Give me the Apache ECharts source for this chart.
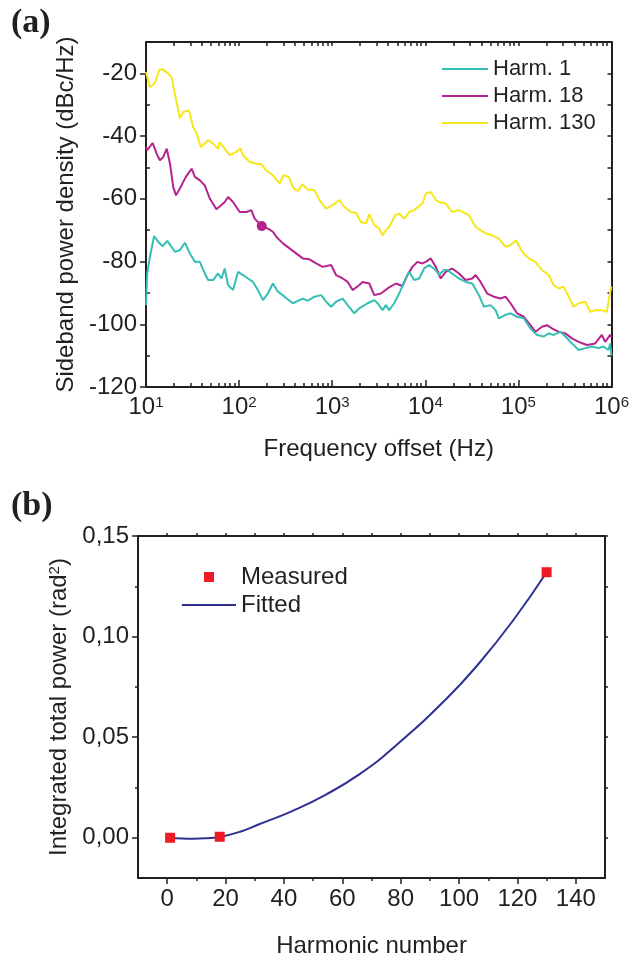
<!DOCTYPE html>
<html>
<head>
<meta charset="utf-8">
<script src="https://cdn.jsdelivr.net/npm/echarts@6/dist/echarts.min.js"></script>
<style>
  html, body { margin: 0; padding: 0; background: #ffffff; }
  #chart { width: 632px; height: 965px; }
</style>
</head>
<body>
<div id="chart"></div>
<script>
// Sideband power density of harmonics, [offset frequency (Hz), dBc/Hz]
const harm1 = [
  [10, -93.9], [10.3, -83.8], [10.85, -79.6], [12.2, -71.9], [13.5, -73.7], [15.1, -75.1],
  [16.9, -73.4], [18.8, -75.3], [20.4, -76.9], [23.1, -76.4], [26.2, -74.0], [29.6, -77.4],
  [33.5, -80.1], [37.9, -80.1], [42.8, -83.8], [46.5, -85.9], [52.6, -85.9], [59.4, -83.8],
  [64.6, -85.4], [70.1, -82.2], [76.1, -87.5], [86.1, -89.1], [97.3, -83.3], [110.1, -84.3],
  [124.5, -85.4], [140.9, -86.5], [159.4, -89.1], [180.3, -92.3], [203.9, -90.2], [230.7, -87.0],
  [261.0, -89.6], [307.8, -91.2], [377.6, -93.3], [445.5, -92.3], [483.3, -91.8], [546.7, -92.5],
  [644.8, -91.2], [760.6, -90.7], [860.5, -92.8], [973.2, -94.4], [1101, -92.8], [1296, -91.8],
  [1466, -93.9], [1729, -96.5], [1956, -94.9], [2400, -93.3], [2831, -92.3], [3070, -93.3],
  [3474, -95.5], [3777, -93.9], [4096, -95.5], [4634, -93.3], [5242, -90.2], [5929, -86.5],
  [6707, -83.3], [7590, -85.9], [8585, -85.4], [9710, -82.2], [10984, -81.1], [12953, -82.7],
  [14053, -84.3], [15897, -82.7], [17251, -82.7], [20341, -84.3], [23010, -85.4], [27140, -86.5],
  [31944, -87.0], [37670, -90.7], [42618, -94.4], [50260, -93.9], [56860, -95.5], [61680, -98.1],
  [72750, -97.0], [82300, -96.5], [96850, -97.6], [114240, -98.1], [134740, -101.3], [158600, -103.4],
  [187100, -103.9], [211600, -102.9], [239300, -103.4], [282300, -102.4], [319400, -103.9], [375800, -106.1],
  [443400, -108.2], [522900, -107.6], [615400, -107.1], [726000, -107.6], [821000, -107.1], [928800, -108.2],
  [968500, -106.1], [1000000, -110.0]
];
const harm18 = [
  [10, -43.5], [10.3, -44.5], [11.8, -42.2], [13.0, -45.6], [14.1, -47.7], [15.3, -46.7],
  [16.7, -44.0], [18.1, -48.8], [19.6, -56.2], [21.0, -58.9], [23.1, -56.7], [26.8, -53.0],
  [30.9, -50.4], [33.5, -53.0], [37.9, -54.1], [42.8, -55.7], [48.4, -59.9], [57.1, -63.3],
  [64.6, -62.0], [70.1, -61.0], [76.1, -59.4], [86.1, -61.0], [101.5, -64.2], [119.7, -64.2],
  [135.4, -63.6], [146.9, -66.3], [153.2, -66.8], [173.3, -68.5], [203.9, -69.5], [230.7, -70.5],
  [250.9, -72.1], [295.1, -74.2], [348.1, -75.8], [410.6, -77.4], [483.3, -79.0], [570.1, -79.3],
  [672.4, -80.6], [791.3, -81.7], [973.2, -81.1], [1101, -84.3], [1296, -85.4], [1466, -86.5],
  [1658, -89.1], [1956, -87.5], [2121, -86.5], [2503, -87.0], [2831, -90.7], [3339, -90.2],
  [4096, -88.2], [4833, -87.0], [5684, -87.8], [6432, -84.3], [7275, -81.7], [8230, -80.1],
  [9312, -80.6], [10125, -80.1], [11454, -79.0], [12953, -81.7], [14655, -85.4], [16582, -83.3],
  [19506, -82.2], [23010, -83.8], [27140, -85.9], [31944, -85.4], [34736, -84.3], [39282, -86.5],
  [46230, -90.2], [54530, -91.2], [64320, -91.8], [72750, -91.2], [82300, -93.3], [96850, -96.5],
  [114240, -97.6], [134740, -100.3], [152400, -102.4], [179400, -100.8], [202900, -100.3], [229500, -101.3],
  [270700, -102.4], [319400, -102.9], [375800, -104.5], [443400, -105.6], [544000, -106.6], [669200, -106.1],
  [787400, -103.4], [856300, -105.6], [968500, -103.4], [1000000, -104.0]
];
const harm130 = [
  [10, -19.6], [11.0, -24.4], [12.5, -23.0], [13.9, -18.8], [15.2, -18.8], [17.2, -20.0],
  [18.8, -21.2], [20.4, -26.4], [23.1, -34.3], [25.1, -32.3], [28.9, -31.8], [32.1, -37.1],
  [34.9, -39.1], [38.8, -43.5], [46.5, -41.3], [52.6, -42.4], [59.4, -44.0], [62.0, -41.9],
  [70.1, -44.0], [79.3, -46.1], [93.6, -45.0], [103.2, -44.0], [110.1, -46.1], [129.9, -48.2],
  [153.2, -48.8], [173.3, -49.0], [196.0, -50.9], [230.7, -52.5], [272.2, -55.1], [300.3, -52.5],
  [342.1, -53.0], [384.2, -56.7], [427.2, -57.5], [476.2, -55.4], [546.7, -57.0], [644.8, -57.3],
  [729.4, -60.4], [860.5, -63.1], [1012, -62.0], [1194, -60.4], [1351, -62.6], [1594, -64.2],
  [1803, -64.5], [2039, -67.4], [2307, -67.9], [2503, -64.9], [2831, -68.4], [3202, -69.4],
  [3474, -71.6], [3777, -70.0], [4096, -69.0], [4750, -65.2], [5242, -64.7], [5929, -66.3],
  [6707, -64.2], [7590, -63.6], [9312, -61.5], [10125, -58.3], [11454, -57.8], [12953, -60.4],
  [14053, -61.0], [16582, -61.5], [19506, -64.2], [23010, -63.6], [29446, -65.2], [34736, -69.0],
  [44444, -71.0], [51900, -71.6], [61680, -72.7], [72750, -75.3], [82300, -74.8], [94500, -73.2],
  [109550, -76.9], [129200, -79.0], [152400, -80.1], [179400, -82.7], [211600, -84.3], [239300, -87.5],
  [270700, -88.6], [306300, -88.0], [346400, -91.2], [391900, -94.4], [443400, -93.3], [522900, -92.8],
  [591600, -96.0], [669200, -95.5], [787400, -95.5], [890600, -96.0], [968500, -89.7], [1000000, -88.0]
];
const harm18Marker = [[175, -68.7]];

// Integrated phase-noise power versus harmonic number
const measured = [[1, 0.0000], [18, 0.0005], [130, 0.1320]];
const fitted = [
  [1, 0.0000], [5, -0.0004], [9, -0.0005], [13, -0.0003], [18, 0.0004], [25, 0.0030],
  [31.5, 0.0067], [43, 0.0134], [54.4, 0.0215], [65.8, 0.0315], [77.3, 0.0445], [95.6, 0.0690],
  [107, 0.0870], [118.5, 0.1080], [130, 0.1320]
];

// Axis ticks
const psdTicks = [-120, -100, -80, -60, -40, -20];
const psdMinorTicks = [-110, -90, -70, -50, -30];
const decades = [1, 2, 3, 4, 5, 6];
const harmTicks = [0, 20, 40, 60, 80, 100, 120, 140];
const harmMinorTicks = [10, 30, 50, 70, 90, 110, 130];
const powerTicks = [0, 0.05, 0.10, 0.15];
const powerMinorTicks = [0.025, 0.075, 0.125];

// log10 positions of the 2..9 ticks inside every decade
const decadeMinor = [];
decades.slice(0, -1).forEach(d => {
  for (let k = 2; k <= 9; k++) decadeMinor.push(d + Math.log10(k));
});

const ink = '#231f20';
const sans = '"Liberation Sans", Arial, sans-serif';
const frameLine = { show: true, onZero: false, lineStyle: { color: ink, width: 2 } };
const noSplit = { show: false };

function helperAxis(extra) {
  return Object.assign({
    type: 'value',
    axisLine: { show: false, onZero: false },
    axisLabel: { show: false },
    splitLine: noSplit,
    silent: true
  }, extra);
}

// legend glyphs: a plain stroke for curves, a small square for points
const strokeIcon = w => 'path://M0,0H' + w + 'V2H0Z';
const squareIcon = 'path://M0,0H10V10H0Z';

const chart = echarts.init(document.getElementById('chart'), null, { renderer: 'canvas' });

chart.setOption({
  animation: false,
  backgroundColor: '#ffffff',
  textStyle: { fontFamily: sans, color: ink },
  graphic: [
    { type: 'text', left: 11, top: 6, style: { text: '(a)', font: 'bold 34px "Liberation Serif", "Times New Roman", serif', fill: ink } },
    { type: 'text', left: 11, top: 489, style: { text: '(b)', font: 'bold 34px "Liberation Serif", "Times New Roman", serif', fill: ink } }
  ],
  grid: [
    { left: 146, top: 42, width: 467, height: 345 },
    { left: 138, top: 536, width: 467, height: 342 }
  ],
  legend: [
    {
      data: [
        { name: 'Harm. 1', icon: strokeIcon(46) },
        { name: 'Harm. 18', icon: strokeIcon(46) },
        { name: 'Harm. 130', icon: strokeIcon(46) }
      ],
      orient: 'vertical', left: 437, top: 53,
      itemWidth: 46, itemHeight: 10, itemGap: 5,
      symbolKeepAspect: true,
      selectedMode: false,
      textStyle: { fontSize: 22, color: ink, fontFamily: sans }
    },
    {
      data: [
        { name: 'Measured', icon: squareIcon },
        { name: 'Fitted', icon: strokeIcon(54) }
      ],
      orient: 'vertical', left: 177, top: 560,
      itemWidth: 54, itemHeight: 10, itemGap: 4,
      symbolKeepAspect: true,
      selectedMode: false,
      textStyle: { fontSize: 24, color: ink, fontFamily: sans }
    }
  ],
  xAxis: [
    {
      gridIndex: 0, type: 'log', logBase: 10, min: 10, max: 1000000,
      axisLine: frameLine,
      axisTick: { show: true, inside: true, length: 7, lineStyle: { color: ink, width: 1.5 } },
      minorTick: { show: false },
      splitLine: noSplit,
      axisLabel: {
        margin: 8,
        formatter: v => '{b|10}{e|' + Math.round(Math.log10(v)) + '}',
        rich: {
          b: { fontSize: 24, color: ink, fontFamily: sans },
          e: { fontSize: 15, color: ink, fontFamily: sans, verticalAlign: 'top' }
        }
      },
      name: 'Frequency offset (Hz)', nameLocation: 'middle', nameGap: 50,
      nameTextStyle: { fontSize: 24, color: ink, fontFamily: sans }
    },
    helperAxis({
      gridIndex: 0, min: 1, max: 6, position: 'bottom',
      axisTick: { show: true, inside: true, length: 4, customValues: decadeMinor, lineStyle: { color: ink, width: 1.5 } }
    }),
    helperAxis({
      gridIndex: 0, min: 1, max: 6, position: 'top',
      axisLine: frameLine,
      axisTick: { show: true, inside: true, length: 4, customValues: decades.concat(decadeMinor), lineStyle: { color: ink, width: 1.5 } }
    }),
    {
      gridIndex: 1, type: 'value', min: -10, max: 150,
      axisLine: frameLine,
      axisTick: { show: true, inside: false, length: 6, customValues: harmTicks, lineStyle: { color: ink, width: 1.5 } },
      splitLine: noSplit,
      axisLabel: { customValues: harmTicks, margin: 9, fontSize: 24, color: ink, fontFamily: sans },
      name: 'Harmonic number', nameLocation: 'middle', nameGap: 56,
      nameTextStyle: { fontSize: 24, color: ink, fontFamily: sans }
    },
    helperAxis({
      gridIndex: 1, min: -10, max: 150, position: 'bottom',
      axisTick: { show: true, inside: false, length: 3, customValues: harmMinorTicks, lineStyle: { color: ink, width: 1.5 } }
    }),
    helperAxis({
      gridIndex: 1, min: -10, max: 150, position: 'top',
      axisLine: frameLine,
      axisTick: { show: true, inside: false, length: 3, customValues: harmTicks.concat(harmMinorTicks), lineStyle: { color: ink, width: 1.5 } }
    })
  ],
  yAxis: [
    {
      gridIndex: 0, type: 'value', min: -120, max: -10,
      axisLine: frameLine,
      axisTick: { show: true, inside: false, length: 6, customValues: psdTicks, lineStyle: { color: ink, width: 1.5 } },
      splitLine: noSplit,
      axisLabel: { customValues: psdTicks, margin: 9, fontSize: 24, color: ink, fontFamily: sans },
      name: 'Sideband power density (dBc/Hz)', nameLocation: 'middle', nameGap: 50,
      nameTextStyle: { fontSize: 24, color: ink, fontFamily: sans }
    },
    helperAxis({
      gridIndex: 0, min: -120, max: -10, position: 'left',
      axisTick: { show: true, inside: true, length: 4, customValues: psdMinorTicks, lineStyle: { color: ink, width: 1.5 } }
    }),
    helperAxis({
      gridIndex: 0, min: -120, max: -10, position: 'right',
      axisLine: frameLine,
      axisTick: { show: true, inside: true, length: 4, customValues: psdTicks.concat(psdMinorTicks), lineStyle: { color: ink, width: 1.5 } }
    }),
    {
      gridIndex: 1, type: 'value', min: -0.02, max: 0.15,
      axisLine: frameLine,
      axisTick: { show: true, inside: false, length: 6, customValues: powerTicks, lineStyle: { color: ink, width: 1.5 } },
      splitLine: noSplit,
      axisLabel: {
        customValues: powerTicks, margin: 9, fontSize: 24, color: ink, fontFamily: sans,
        formatter: v => v.toFixed(2).replace('.', ',')
      },
      name: 'Integrated total power (rad{s|2})', nameLocation: 'middle', nameGap: 55,
      nameTextStyle: {
        fontSize: 24, color: ink, fontFamily: sans,
        rich: { s: { fontSize: 15, color: ink, fontFamily: sans, verticalAlign: 'top' } }
      }
    },
    helperAxis({
      gridIndex: 1, min: -0.02, max: 0.15, position: 'left',
      axisTick: { show: true, inside: false, length: 3, customValues: powerMinorTicks, lineStyle: { color: ink, width: 1.5 } }
    }),
    helperAxis({
      gridIndex: 1, min: -0.02, max: 0.15, position: 'right',
      axisLine: frameLine,
      axisTick: { show: true, inside: false, length: 3, customValues: powerTicks.concat(powerMinorTicks), lineStyle: { color: ink, width: 1.5 } }
    })
  ],
  series: [
    {
      name: 'Harm. 1', type: 'line', xAxisIndex: 0, yAxisIndex: 0, data: harm1,
      symbol: 'none', lineStyle: { color: '#33bfb4', width: 2 }, itemStyle: { color: '#33bfb4' }, z: 4
    },
    {
      name: 'Harm. 18', type: 'line', xAxisIndex: 0, yAxisIndex: 0, data: harm18,
      symbol: 'none', lineStyle: { color: '#b5238e', width: 2 }, itemStyle: { color: '#b5238e' }, z: 3
    },
    {
      name: 'Harm. 130', type: 'line', xAxisIndex: 0, yAxisIndex: 0, data: harm130,
      symbol: 'none', lineStyle: { color: '#f6e71c', width: 2 }, itemStyle: { color: '#f6e71c' }, z: 2
    },
    {
      name: 'Harm. 18 marker', type: 'scatter', xAxisIndex: 0, yAxisIndex: 0, data: harm18Marker,
      symbol: 'circle', symbolSize: 10, itemStyle: { color: '#b5238e', opacity: 1 }, z: 5
    },
    {
      name: 'Fitted', type: 'line', xAxisIndex: 3, yAxisIndex: 3, data: fitted,
      smooth: true, symbol: 'none', lineStyle: { color: '#2e3192', width: 2 }, itemStyle: { color: '#2e3192' }, z: 3
    },
    {
      name: 'Measured', type: 'scatter', xAxisIndex: 3, yAxisIndex: 3, data: measured,
      symbol: 'rect', symbolSize: 10, itemStyle: { color: '#ed1c24', opacity: 1 }, z: 4
    }
  ]
});
</script>
</body>
</html>
